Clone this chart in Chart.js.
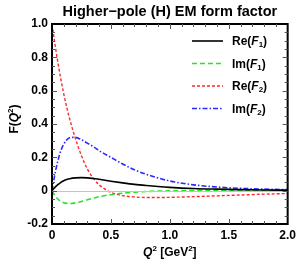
<!DOCTYPE html>
<html>
<head>
<meta charset="utf-8">
<script src="https://cdn.jsdelivr.net/npm/chart.js@4"></script>
</head>
<body style="margin:0">
<canvas id="mycanvas" width="300" height="265"></canvas>
<script>
// values
var q2 = [0, 0.025, 0.05, 0.075, 0.1, 0.125, 0.15, 0.2, 0.25, 0.3, 0.35, 0.4, 0.5, 0.6, 0.7, 0.8, 0.9, 1.0, 1.2, 1.4, 1.6, 1.8, 2.0];
var reF1 = [0, 0.02, 0.036, 0.05, 0.06, 0.067, 0.072, 0.077, 0.078, 0.077, 0.073, 0.068, 0.057, 0.047, 0.038, 0.031, 0.025, 0.02, 0.013, 0.009, 0.006, 0.004, 0.003];
var imF1 = [0, -0.03, -0.05, -0.064, -0.072, -0.076, -0.077, -0.073, -0.065, -0.055, -0.045, -0.036, -0.024, -0.015, -0.009, -0.005, -0.003, -0.001, 0.001, 0.002, 0.002, 0.002, 0.002];
var reF2 = [1.0, 0.88, 0.77, 0.67, 0.58, 0.5, 0.43, 0.31, 0.21, 0.13, 0.075, 0.035, -0.01, -0.03, -0.038, -0.041, -0.041, -0.04, -0.036, -0.031, -0.026, -0.021, -0.017];
var imF2 = [0, 0.1, 0.18, 0.24, 0.28, 0.305, 0.318, 0.32, 0.305, 0.285, 0.265, 0.24, 0.2, 0.16, 0.125, 0.098, 0.076, 0.058, 0.035, 0.022, 0.014, 0.009, 0.006];
var seriesNames = [["Re", "1"], ["Im", "1"], ["Re", "2"], ["Im", "2"]];
var xTicks = [0, 0.5, 1.0, 1.5, 2.0];
var yTicks = [-0.2, 0, 0.2, 0.4, 0.6, 0.8, 1.0];

var FONT = "'Liberation Sans', Arial, sans-serif";

function pts(ys) {
    var out = [];
    for (var i in q2) out.push({x: q2[i], y: ys[i]});
    return out;
}

function drawParts(c, parts, cx, by) {
    var total = 0;
    parts.forEach(function(p) { c.font = p[0]; total += c.measureText(p[1]).width; });
    var x = cx - total / 2;
    c.textAlign = 'left';
    c.textBaseline = 'alphabetic';
    c.fillStyle = '#000';
    parts.forEach(function(p) {
        c.font = p[0];
        c.fillText(p[1], x, by + p[2]);
        x += c.measureText(p[1]).width;
    });
}

// everything extra in one afterDraw hook, like the test that worked
var deco = {
    id: 'deco',
    afterDraw: function(chart) {
        var c = chart.ctx, a = chart.chartArea;
        var xs = chart.scales.x, ys = chart.scales.y;
        c.save();

        // zero line
        c.fillStyle = '#c4c4c4';
        c.fillRect(a.left, Math.round(ys.getPixelForValue(0)), a.right - a.left, 1);

        // frame
        c.strokeStyle = '#000';
        c.lineWidth = 2;
        c.strokeRect(a.left, a.top, a.right - a.left, a.bottom - a.top);

        // inward ticks
        c.fillStyle = '#555';
        for (var k = 1; k < 20; k++) {
            var px = Math.round(xs.getPixelForValue(k * 0.1));
            var len = (k % 5 === 0) ? 5 : 3;
            c.fillRect(px, a.bottom - len, 1, len);
            c.fillRect(px, a.top, 1, len);
        }
        for (var j = 1; j < 24; j++) {
            var py = Math.round(ys.getPixelForValue(-0.2 + j * 0.05));
            var l2 = (j % 4 === 0) ? 5 : 3;
            c.fillRect(a.left, py, l2, 1);
            c.fillRect(a.right - l2, py, l2, 1);
        }

        // title
        c.fillStyle = '#000';
        c.font = 'bold 14.5px ' + FONT;
        c.textAlign = 'center';
        c.textBaseline = 'alphabetic';
        c.fillText('Higher\u2212pole (H) EM form factor', (a.left + a.right) / 2, 16);

        // axis titles
        drawParts(c, [
            ['italic bold 12px ' + FONT, 'Q', 0],
            ['bold 8px ' + FONT, '2', -5],
            ['bold 12px ' + FONT, ' [GeV', 0],
            ['bold 8px ' + FONT, '2', -5],
            ['bold 12px ' + FONT, ']', 0]
        ], (a.left + a.right) / 2, 256);

        c.save();
        c.translate(18, (a.top + a.bottom) / 2 - 5);
        c.rotate(-Math.PI / 2);
        drawParts(c, [
            ['bold 12px ' + FONT, 'F(', 0],
            ['italic bold 12px ' + FONT, 'Q', 0],
            ['bold 8px ' + FONT, '2', -5],
            ['bold 12px ' + FONT, ')', 0]
        ], 0, 0);
        c.restore();

        // legend
        var lx0 = 192, lx1 = 223, tx = 232;
        chart.data.datasets.forEach(function(ds, i) {
            var ly = 41 + i * 22.5;
            c.save();
            c.strokeStyle = ds.borderColor;
            c.lineWidth = ds.borderWidth;
            c.setLineDash(ds.borderDash || []);
            c.beginPath();
            c.moveTo(lx0, ly); c.lineTo(lx1, ly);
            c.stroke();
            c.restore();
            c.fillStyle = '#000';
            c.textAlign = 'left';
            c.textBaseline = 'middle';
            var x = tx;
            [
                ['bold 12px ' + FONT, seriesNames[i][0] + '(', 0],
                ['italic bold 12px ' + FONT, 'F', 0],
                ['bold 8px ' + FONT, seriesNames[i][1], 3],
                ['bold 12px ' + FONT, ')', 0]
            ].forEach(function(s) {
                c.font = s[0];
                c.fillText(s[1], x, ly + 1 + s[2]);
                x += c.measureText(s[1]).width;
            });
        });
        c.restore();
    }
};

var chartdata = {
    datasets: [{
        label: 'Re(F1)',
        data: pts(reF1),
        borderColor: '#000000',
        borderWidth: 1.6
    }, {
        label: 'Im(F1)',
        data: pts(imF1),
        borderColor: '#22e622',
        borderWidth: 1.6,
        borderDash: [5, 3]
    }, {
        label: 'Re(F2)',
        data: pts(reF2),
        borderColor: '#ff2a2a',
        borderWidth: 1.4,
        borderDash: [3, 2]
    }, {
        label: 'Im(F2)',
        data: pts(imF2),
        borderColor: '#2a2aff',
        borderWidth: 1.6,
        borderDash: [5, 2, 1.5, 2]
    }]
};

new Chart(document.getElementById('mycanvas'), {
    type: 'line',
    data: chartdata,
    plugins: [deco],
    options: {
        responsive: false,
        animation: false,
        layout: { padding: { left: 0, right: 9, top: 24, bottom: 0 } },
        elements: {
            point: { radius: 0 },
            line: { cubicInterpolationMode: 'monotone', fill: false }
        },
        plugins: {
            legend: { display: false },
            title: { display: false },
            tooltip: { enabled: false }
        },
        scales: {
            x: {
                type: 'linear',
                min: 0, max: 2,
                afterBuildTicks: function(s) { s.ticks = xTicks.map(function(v) { return {value: v}; }); },
                afterFit: function(s) { s.height = 41; },
                grid: { display: false, drawTicks: false },
                border: { display: false },
                ticks: {
                    color: '#000',
                    padding: 4,
                    maxRotation: 0,
                    format: { minimumFractionDigits: 1 },
                    font: { family: FONT, size: 12, weight: 'bold' }
                }
            },
            y: {
                min: -0.2, max: 1.0,
                afterBuildTicks: function(s) { s.ticks = yTicks.map(function(v) { return {value: v}; }); },
                afterFit: function(s) { s.width = 52; },
                grid: { display: false, drawTicks: false },
                border: { display: false },
                ticks: {
                    color: '#000',
                    padding: 4,
                    format: { minimumFractionDigits: 1 },
                    font: { family: FONT, size: 12, weight: 'bold' }
                }
            }
        }
    }
});
</script>
</body>
</html>
